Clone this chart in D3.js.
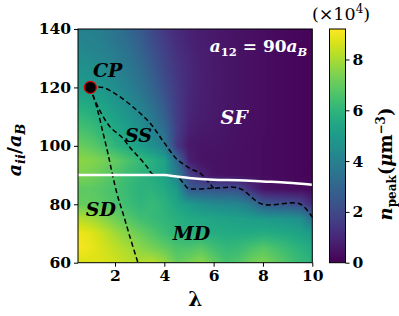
<!DOCTYPE html>
<html><head><meta charset="utf-8">
<script src="https://cdn.jsdelivr.net/npm/d3@7"></script>
<style>body{margin:0;background:#fff} svg{display:block}</style>
</head><body>
<svg id="chart" width="399" height="316"></svg>
<script>
// ---- data ----
const lambdas = [0.5,1,1.5,2,2.5,3,3.5,4,4.5,5,5.5,6,6.5,7,7.5,8,8.5,9,9.5,10];
const aValues = [140,135,130,125,120,115,110,105,100,95,90,85,80,75,70,65,60];
// n_peak (x10^4 um^-3), rows follow aValues, columns follow lambdas
const nPeak = [
 [4.0,3.95,3.8,3.5,3.1,2.6,2.05,1.5,1.1,0.85,0.7,0.58,0.5,0.42,0.36,0.3,0.25,0.2,0.15,0.1],
 [4.2,4.1,3.95,3.65,3.3,2.8,2.2,1.65,1.2,0.9,0.73,0.6,0.51,0.43,0.37,0.3,0.25,0.2,0.15,0.1],
 [4.45,4.35,4.15,3.9,3.55,3.05,2.45,1.85,1.35,1.0,0.78,0.62,0.52,0.44,0.37,0.3,0.25,0.2,0.15,0.1],
 [4.75,4.65,4.45,4.15,3.8,3.3,2.7,2.0,1.45,1.05,0.8,0.63,0.53,0.44,0.37,0.3,0.25,0.2,0.15,0.1],
 [5.1,5.0,4.8,4.5,4.05,3.55,2.95,2.2,1.55,1.05,0.8,0.63,0.53,0.44,0.37,0.3,0.25,0.2,0.15,0.1],
 [5.6,5.45,5.2,4.85,4.45,3.95,3.3,2.5,1.6,1.0,0.78,0.62,0.52,0.44,0.37,0.3,0.25,0.2,0.15,0.1],
 [6.1,5.9,5.6,5.2,4.8,4.35,3.7,2.8,1.65,0.95,0.72,0.6,0.5,0.42,0.36,0.3,0.25,0.2,0.15,0.1],
 [6.6,6.4,6.0,5.6,5.2,4.7,4.1,3.3,1.7,0.8,0.62,0.55,0.47,0.4,0.35,0.3,0.25,0.2,0.15,0.1],
 [7.1,6.9,6.5,6.0,5.6,5.1,4.6,3.9,1.5,0.6,0.5,0.48,0.43,0.38,0.33,0.28,0.24,0.2,0.15,0.1],
 [7.6,7.5,7.3,7.0,6.6,6.2,5.8,5.3,3.2,0.8,0.45,0.42,0.4,0.36,0.32,0.28,0.24,0.2,0.15,0.1],
 [7.4,7.3,7.0,6.7,6.3,6.0,5.7,5.3,4.0,1.8,0.9,0.45,0.4,0.36,0.32,0.28,0.24,0.2,0.15,0.12],
 [6.9,6.9,6.7,6.5,6.2,5.9,5.9,5.6,5.0,2.6,2.5,2.4,2.3,2.2,1.2,0.5,0.4,0.35,0.3,0.25],
 [7.0,7.0,6.8,6.6,6.3,6.0,6.2,5.9,5.4,5.0,4.6,4.4,4.3,4.2,3.7,2.6,2.4,2.3,2.0,1.0],
 [8.2,8.0,7.6,7.2,6.8,6.4,6.2,6.0,5.8,5.6,5.5,5.4,5.3,5.2,5.1,5.0,4.9,4.8,4.6,3.4],
 [9.0,8.8,8.4,7.9,7.5,7.1,6.7,6.3,6.0,5.8,5.8,5.7,5.6,5.6,5.6,5.7,5.6,5.5,5.3,5.0],
 [9.1,8.9,8.6,8.3,8.0,7.6,7.3,7.0,6.6,6.6,6.8,6.4,6.1,6.2,6.5,6.8,6.5,6.2,5.9,5.6],
 [8.7,8.7,8.7,8.5,8.3,8.1,8.2,7.8,7.0,7.3,7.6,7.0,6.5,6.7,7.2,7.4,7.0,6.6,6.2,5.9]
];
const xTicks = [2,4,6,8,10];
const yTicks = [60,80,100,120,140];
const cTicks = [0,2,4,6,8];
const cMax = 9.2;
// phase boundaries (lambda, a)
const lineA = [[1,120],[1.5,120],[2.07,117.5],[2.73,113.3],[3.42,107.8],[4.0,101],[4.5,95.5],[4.8,93.6],[5.1,92],[5.45,90.7],[5.7,88.5],[6,85.5]];
const lineB = [[1,120],[1.1,117.5],[1.39,112],[1.8,106.5],[2.3,102.8],[2.6,99.5],[3.0,95.8],[3.3,92.8],[3.5,90.5],[3.8,90.1],[4.3,90],[4.55,89.3],[4.8,87],[4.96,85.5],[6,85.5],[7.03,85.5],[7.96,80.1],[9.5,80.1],[10,75.6]];
const lineC = [[1,120],[1.1,117.5],[1.3,112],[1.5,105],[1.68,98.6],[1.8,94],[1.92,89.3],[2.1,83],[2.32,77],[2.6,69],[2.93,60]];
const whiteLine = [[0.5,90],[1,90],[2,90],[3,90],[4,90],[4.5,89.5],[5,89],[6,88.4],[7,88.2],[8,87.8],[9,87.4],[10,86.7]];
const criticalPoint = [1,120];
const phaseLabels = [
  {t:"CP", l:1.7,  a:123.5},
  {t:"SS", l:2.95, a:101.3},
  {t:"SF", l:6.83, a:107.5},
  {t:"SD", l:1.43, a:76},
  {t:"MD", l:5.1,  a:67.7}
];

// ---- layout ----
const X0=78, X1=312.3, Y0=29, Y1=262.7;
const CB0=329.5, CB1=345.5;
const svg = d3.select("#chart");
const x = d3.scaleLinear().domain([0.5,10]).range([X0,X1]);
const y = d3.scaleLinear().domain([60,140]).range([Y1,Y0]);
const color = d3.scaleSequential(d3.interpolateViridis).domain([0,cMax]);

// bilinear sample
const aAsc = aValues.slice().reverse();
const gAsc = nPeak.slice().reverse();
function sample(l,a){
  let i = Math.max(0, Math.min(lambdas.length-2, d3.bisectRight(lambdas,l)-1));
  let j = Math.max(0, Math.min(aAsc.length-2, d3.bisectRight(aAsc,a)-1));
  let tx = Math.max(0,Math.min(1,(l-lambdas[i])/(lambdas[i+1]-lambdas[i])));
  let ty = Math.max(0,Math.min(1,(a-aAsc[j])/(aAsc[j+1]-aAsc[j])));
  return (1-tx)*(1-ty)*gAsc[j][i] + tx*(1-ty)*gAsc[j][i+1] + (1-tx)*ty*gAsc[j+1][i] + tx*ty*gAsc[j+1][i+1];
}
const W = Math.round(X1-X0), H = Math.round(Y1-Y0);
const cv = document.createElement("canvas"); cv.width=W; cv.height=H;
const ctx = cv.getContext("2d");
const img = ctx.createImageData(W,H);
for(let py=0;py<H;py++){
  for(let px=0;px<W;px++){
    const c = d3.rgb(color(sample(x.invert(X0+px+0.5), y.invert(Y0+py+0.5))));
    const k=(py*W+px)*4;
    img.data[k]=c.r; img.data[k+1]=c.g; img.data[k+2]=c.b; img.data[k+3]=255;
  }
}
ctx.putImageData(img,0,0);
svg.append("image").attr("x",X0).attr("y",Y0).attr("width",X1-X0).attr("height",Y1-Y0)
  .attr("preserveAspectRatio","none").attr("href",cv.toDataURL());

// boundaries
const line = d3.line().x(d=>x(d[0])).y(d=>y(d[1])).curve(d3.curveMonotoneX);
const lineY = d3.line().x(d=>x(d[0])).y(d=>y(d[1])).curve(d3.curveCatmullRom);
[lineA,lineB,lineC].forEach(L=>{
  svg.append("path").attr("d",lineY(L)).attr("fill","none").attr("stroke","#000")
    .attr("stroke-width",1.5).attr("stroke-dasharray","5,3");
});
svg.append("path").attr("d",line(whiteLine)).attr("fill","none").attr("stroke","#fff").attr("stroke-width",2.5);
svg.append("circle").attr("cx",x(criticalPoint[0])).attr("cy",y(criticalPoint[1])).attr("r",6)
  .attr("fill","#000").attr("stroke","#e00000").attr("stroke-width",1.2);

const serif = "'DejaVu Serif', serif";
phaseLabels.forEach(p=>{
  svg.append("text").attr("x",x(p.l)).attr("y",y(p.a)).attr("text-anchor","middle")
    .attr("font-family",serif).attr("font-weight","bold").attr("font-style","italic")
    .attr("font-size",19).attr("fill", p.t==="SF"?"#fff":"#000").text(p.t);
});
// a12 annotation
const ann = svg.append("text").attr("x",X1-5).attr("y",52).attr("text-anchor","end")
  .attr("font-family",serif).attr("font-weight","bold").attr("font-size",17).attr("fill","#fff");
ann.append("tspan").attr("font-style","italic").text("a");
ann.append("tspan").attr("font-size",11.5).attr("dy",4).text("12");
ann.append("tspan").attr("dy",-4).text(" = 90");
ann.append("tspan").attr("font-style","italic").text("a");
ann.append("tspan").attr("font-size",11.5).attr("font-style","italic").attr("dy",4).text("B");

// frame
svg.append("rect").attr("x",X0).attr("y",Y0).attr("width",X1-X0).attr("height",Y1-Y0)
  .attr("fill","none").attr("stroke","#000").attr("stroke-width",1);

// axes
const ax = svg.append("g").attr("transform",`translate(0,${Y1})`)
  .call(d3.axisBottom(x).tickValues(xTicks).tickSize(4).tickPadding(3).tickFormat(d3.format("d")));
const ay = svg.append("g").attr("transform",`translate(${X0},0)`)
  .call(d3.axisLeft(y).tickValues(yTicks).tickSize(4).tickPadding(3).tickFormat(d3.format("d")));
[ax,ay].forEach(g=>{
  g.select(".domain").remove();
  g.selectAll("line").attr("stroke","#000");
  g.selectAll("text").attr("font-family",serif).attr("font-weight","bold").attr("font-size",15.5).attr("fill","#000");
});

// axis labels
svg.append("text").attr("x",(X0+X1)/2).attr("y",306).attr("text-anchor","middle")
  .attr("font-family",serif).attr("font-weight","bold").attr("font-size",20).text("λ");
const yl = svg.append("text").attr("transform",`translate(21,150) rotate(-90)`).attr("text-anchor","middle")
  .attr("font-family",serif).attr("font-weight","bold").attr("font-style","italic").attr("font-size",19);
yl.append("tspan").text("a");
yl.append("tspan").attr("font-size",13).attr("dy",4).text("ii");
yl.append("tspan").attr("dy",-4).attr("font-style","normal").text("/");
yl.append("tspan").text("a");
yl.append("tspan").attr("font-size",13).attr("dy",4).text("B");

// colorbar
const cy = d3.scaleLinear().domain([0,cMax]).range([Y1,Y0]);
const defs = svg.append("defs");
const grad = defs.append("linearGradient").attr("id","cbg").attr("x1",0).attr("y1",1).attr("x2",0).attr("y2",0);
d3.range(0,1.0001,0.05).forEach(t=>grad.append("stop").attr("offset",t).attr("stop-color",color(t*cMax)));
svg.append("rect").attr("x",CB0).attr("y",Y0).attr("width",CB1-CB0).attr("height",Y1-Y0)
  .attr("fill","url(#cbg)").attr("stroke","#000").attr("stroke-width",1);
const ac = svg.append("g").attr("transform",`translate(${CB1},0)`)
  .call(d3.axisRight(cy).tickValues(cTicks).tickSize(4).tickPadding(3).tickFormat(d3.format("d")));
ac.select(".domain").remove();
ac.selectAll("text").attr("font-family",serif).attr("font-weight","bold").attr("font-size",15.5);
const sc = svg.append("text").attr("x",341).attr("y",20).attr("text-anchor","middle")
  .attr("font-family",serif).attr("font-size",17.5);
sc.append("tspan").text("(×10");
sc.append("tspan").attr("font-size",12).attr("dy",-7).text("4");
sc.append("tspan").attr("dy",7).text(")");
const cl = svg.append("text").attr("transform",`translate(392,164) rotate(-90)`).attr("text-anchor","middle")
  .attr("font-family",serif).attr("font-weight","bold").attr("font-size",18);
cl.append("tspan").attr("font-style","italic").text("n");
cl.append("tspan").attr("font-size",12).attr("dy",4).text("peak");
cl.append("tspan").attr("dy",-4).text("(");
cl.append("tspan").attr("font-style","italic").text("μ");
cl.append("tspan").text("m");
cl.append("tspan").attr("font-size",12).attr("dy",-7).text("−3");
cl.append("tspan").attr("dy",7).text(")");
</script>
</body></html>
